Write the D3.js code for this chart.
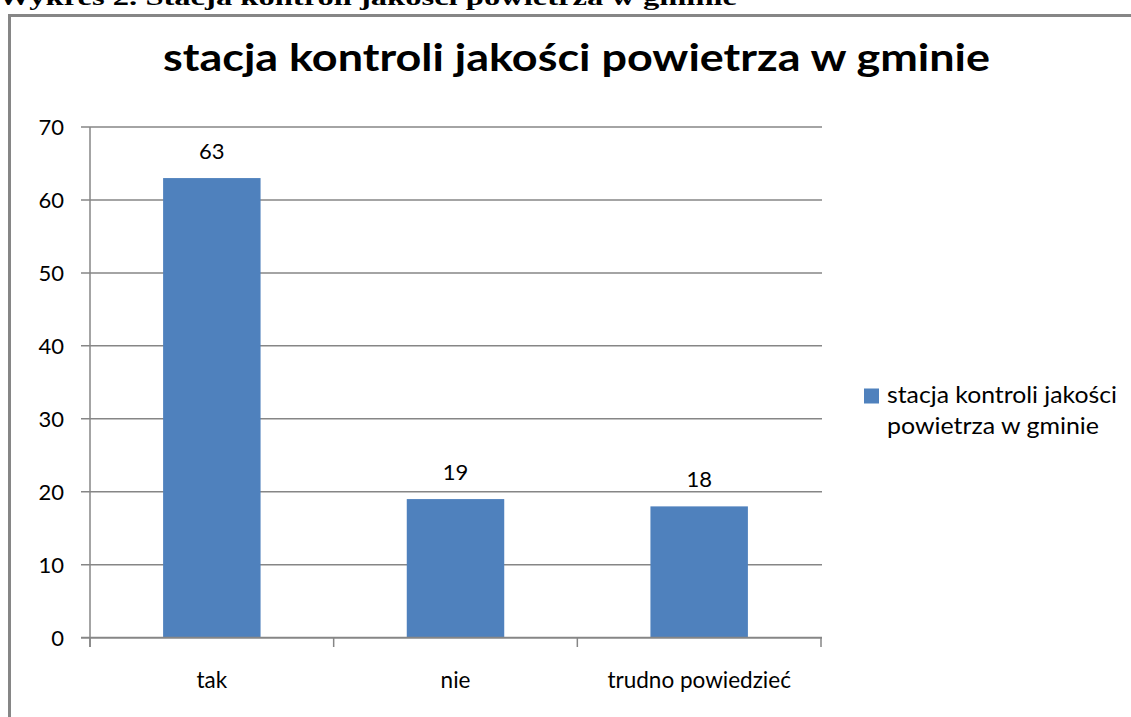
<!DOCTYPE html>
<html>
<head>
<meta charset="utf-8">
<script src="https://cdn.jsdelivr.net/npm/d3@7"></script>
<style>
  html, body { margin: 0; padding: 0; background: #fff; }
  svg { display: block; }
</style>
</head>
<body>
<svg id="chart" width="1131" height="717"></svg>
<script>
const pageCaption = "Wykres 2. Stacja kontroli jakości powietrza w gminie";
const chartTitle = "stacja kontroli jakości powietrza w gminie";
const categories = ["tak", "nie", "trudno powiedzieć"];
const values = [63, 19, 18];
const seriesName = ["stacja kontroli jakości", "powietrza w gminie"];
const yTicks = [0, 10, 20, 30, 40, 50, 60, 70];

const svg = d3.select("#chart");
const font = "Lato, 'Open Sans', sans-serif";

// cut-off caption from the document
svg.append("text")
  .attr("x", -2).attr("y", 5)
  .attr("font-family", "'Liberation Serif', 'Times New Roman', serif")
  .attr("font-weight", "bold")
  .attr("font-size", 24)
  .attr("textLength", 739)
  .attr("lengthAdjust", "spacingAndGlyphs")
  .attr("fill", "#000")
  .text(pageCaption);

// chart frame
svg.append("rect")
  .attr("x", 9.5).attr("y", 15.5)
  .attr("width", 1200).attr("height", 800)
  .attr("fill", "none")
  .attr("stroke", "#868686")
  .attr("stroke-width", 3);

// title
svg.append("text")
  .attr("x", 163).attr("y", 71)
  .attr("font-family", font)
  .attr("font-weight", "bold")
  .attr("font-size", 38)
  .attr("textLength", 827)
  .attr("lengthAdjust", "spacingAndGlyphs")
  .attr("fill", "#000")
  .text(chartTitle);

const x = d3.scaleBand().domain(categories).range([90, 821])
  .paddingInner(0.6).paddingOuter(0.3);
const y = d3.scaleLinear().domain([0, 70]).range([637.7, 127]);

// gridlines
svg.append("g").selectAll("line").data(yTicks.filter(d => d > 0)).join("line")
  .attr("x1", 81).attr("x2", 822)
  .attr("y1", d => y(d)).attr("y2", d => y(d))
  .attr("stroke", "#868686").attr("stroke-width", 1.5);

// y tick labels
svg.append("g").selectAll("text").data(yTicks).join("text")
  .attr("x", 64).attr("y", d => y(d))
  .attr("dy", "0.36em")
  .attr("text-anchor", "end")
  .attr("font-family", font).attr("font-size", 22)
  .attr("fill", "#000")
  .text(d => d);

// bars
svg.append("g").selectAll("rect").data(values).join("rect")
  .attr("x", (d, i) => x(categories[i]))
  .attr("width", x.bandwidth())
  .attr("y", d => y(d))
  .attr("height", d => y(0) - y(d))
  .attr("fill", "#4f81bd");

// data labels
svg.append("g").selectAll("text").data(values).join("text")
  .attr("x", (d, i) => x(categories[i]) + x.bandwidth() / 2)
  .attr("y", d => y(d) - 19.5)
  .attr("text-anchor", "middle")
  .attr("font-family", font).attr("font-size", 22)
  .attr("fill", "#000")
  .text(d => d);

// y axis line
svg.append("line")
  .attr("x1", 90).attr("x2", 90).attr("y1", y(70)).attr("y2", 647)
  .attr("stroke", "#868686").attr("stroke-width", 1.5);

// x axis line
svg.append("line")
  .attr("x1", 81).attr("x2", 822).attr("y1", y(0)).attr("y2", y(0))
  .attr("stroke", "#868686").attr("stroke-width", 2);

// category ticks
const boundaries = d3.range(categories.length + 1).map(i => 90 + i * (731 / categories.length));
svg.append("g").selectAll("line").data(boundaries).join("line")
  .attr("x1", d => d).attr("x2", d => d)
  .attr("y1", y(0)).attr("y2", 647)
  .attr("stroke", "#868686").attr("stroke-width", 1.5);

// category labels
svg.append("g").selectAll("text").data(categories).join("text")
  .attr("x", d => x(d) + x.bandwidth() / 2)
  .attr("y", 688)
  .attr("text-anchor", "middle")
  .attr("font-family", font).attr("font-size", 22.5)
  .attr("fill", "#000")
  .text(d => d);

// legend
const legendWidths = [230, 212];
svg.append("rect")
  .attr("x", 864).attr("y", 388.5).attr("width", 15).attr("height", 15)
  .attr("fill", "#4f81bd");
svg.append("g").selectAll("text").data(seriesName).join("text")
  .attr("x", 887).attr("y", (d, i) => 403 + i * 31)
  .attr("font-family", font).attr("font-size", 23)
  .attr("textLength", (d, i) => legendWidths[i])
  .attr("lengthAdjust", "spacingAndGlyphs")
  .attr("fill", "#000")
  .text(d => d);
</script>
</body>
</html>
